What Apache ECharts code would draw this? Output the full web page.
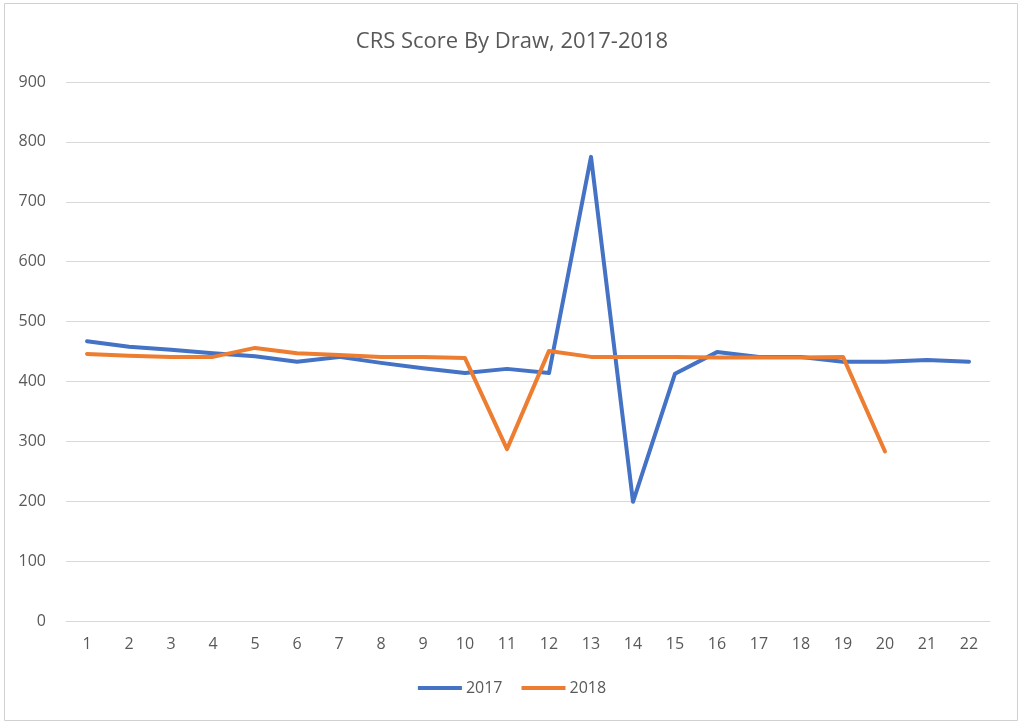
<!DOCTYPE html>
<html lang="en">
<head>
    <meta charset="utf-8">
    <title>CRS Score By Draw</title>
    <script src="https://cdn.jsdelivr.net/npm/echarts@6/dist/echarts.min.js"></script>
    <style>
        body { margin: 0; background: #fff; }
        #chart { width: 1024px; height: 728px; }
    </style>
</head>
<body>
    <div id="chart"></div>
    <script>
        // draw numbers along the x axis
        var draws = ['1', '2', '3', '4', '5', '6', '7', '8', '9', '10', '11',
                     '12', '13', '14', '15', '16', '17', '18', '19', '20', '21', '22'];

        // CRS cut-off scores
        var crs2017 = [467, 458, 453, 447, 442, 433, 441, 431, 422, 414, 421,
                       414, 775, 199, 413, 449, 441, 441, 433, 433, 436, 433];
        var crs2018 = [446, 443, 441, 441, 456, 447, 444, 441, 441, 439, 287,
                       451, 441, 441, 441, 440, 440, 440, 441, 283];

        var textColor = '#595959';
        var gridColor = '#d9d9d9';
        var font = 'Open Sans';

        var myChart = echarts.init(document.getElementById('chart'));

        var option = {
            animation: false,
            title: {
                text: 'CRS Score By Draw, 2017-2018',
                left: 'center',
                top: 26,
                textStyle: { color: textColor, fontSize: 22, fontWeight: 'normal', fontFamily: font }
            },
            graphic: [{
                type: 'rect',
                shape: { x: 4.5, y: 3.5, width: 1013, height: 717 },
                style: { fill: 'none', stroke: '#d0d0d0', lineWidth: 1 },
                silent: true
            }],
            legend: {
                bottom: 27,
                left: 'center',
                icon: 'rect',
                itemWidth: 44,
                itemHeight: 4,
                itemGap: 19,
                textStyle: { color: textColor, fontSize: 16, fontFamily: font, padding: [0, 0, 0, -1] },
                data: ['2017', '2018']
            },
            grid: { left: 66, right: 34, top: 82, bottom: 107 },
            xAxis: {
                type: 'category',
                data: draws,
                boundaryGap: true,
                axisTick: { show: false },
                axisLine: { lineStyle: { color: gridColor, width: 1 } },
                axisLabel: { color: textColor, fontSize: 16, fontFamily: font, margin: 15 }
            },
            yAxis: {
                type: 'value',
                min: 0,
                max: 900,
                interval: 100,
                axisLine: { show: false },
                axisTick: { show: false },
                splitLine: { lineStyle: { color: gridColor, width: 1 } },
                axisLabel: { color: textColor, fontSize: 16, fontFamily: font, margin: 20 }
            },
            series: [{
                name: '2017',
                type: 'line',
                data: crs2017,
                showSymbol: false,
                symbol: 'none',
                itemStyle: { color: '#4472C4' },
                lineStyle: { color: '#4472C4', width: 4, cap: 'round', join: 'round' }
            }, {
                name: '2018',
                type: 'line',
                data: crs2018,
                showSymbol: false,
                symbol: 'none',
                itemStyle: { color: '#ED7D31' },
                lineStyle: { color: '#ED7D31', width: 4, cap: 'round', join: 'round' }
            }]
        };

        myChart.setOption(option);
    </script>
</body>
</html>
